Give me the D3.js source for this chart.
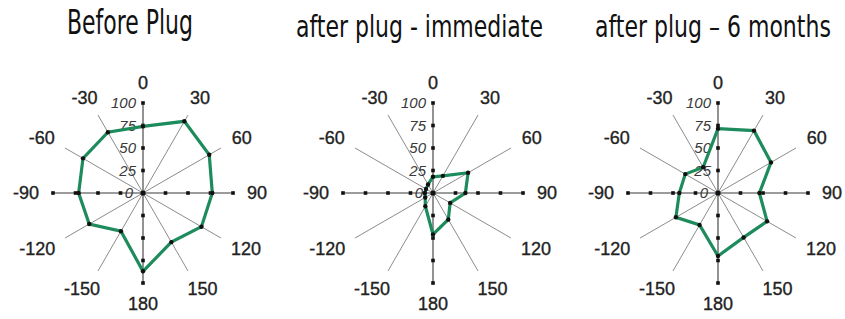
<!DOCTYPE html>
<html>
<head>
<meta charset="utf-8">
<script src="https://cdn.jsdelivr.net/npm/d3@7"></script>
<style>
  html, body { margin: 0; padding: 0; background: #fff; }
  svg { display: block; }
</style>
</head>
<body>
<svg id="chart" width="845" height="319"></svg>
<script>
// ---- data ----
const angles = [0, 30, 60, 90, 120, 150, 180, -150, -120, -90, -60, -30];
const angleLabels = ["0", "30", "60", "90", "120", "150", "180", "-150", "-120", "-90", "-60", "-30"];
const radialTicks = [0, 25, 50, 75, 100];
const radialTickLabels = ["0", "25", "50", "75", "100"];
const titles = ["Before Plug", "after plug - immediate", "after plug \u2013 6 months"];
const beforePlug = [74, 92, 85, 77, 75, 63, 87, 49, 69, 71.5, 77, 78];
const afterImmediate = [18, 22, 45, 36, 22, 34, 46, 17, 10, 9, 9, 11];
const afterSixMonths = [71.5, 80, 68, 46, 63, 57, 70, 41, 54, 43, 42, 33];

// ---- layout ----
const panels = [
  { cx: 143, cy: 193, values: beforePlug, title: titles[0], tx: 67, tw: 126, ty: 34, fs: 33 },
  { cx: 433, cy: 193, values: afterImmediate, title: titles[1], tx: 296, tw: 247, ty: 37, fs: 30 },
  { cx: 718, cy: 193, values: afterSixMonths, title: titles[2], tx: 595, tw: 236, ty: 37, fs: 30 }
];

const svg = d3.select("#chart");
const r = d3.scaleLinear().domain([0, 100]).range([0, 90]);
const rad = a => a * Math.PI / 180;
const green = "#1e8b5d";

panels.forEach(p => {
  // title (condensed by horizontal scaling to the reference width)
  const t = svg.append("text")
    .attr("x", 0).attr("y", 0)
    .style("font-family", "'DejaVu Sans Condensed', 'DejaVu Sans', sans-serif")
    .style("font-stretch", "condensed")
    .style("font-size", p.fs + "px")
    .style("fill", "#111")
    .text(p.title);
  const nat = t.node().getComputedTextLength();
  t.attr("transform", `translate(${p.tx},${p.ty}) scale(${p.tw / nat},1)`);

  const g = svg.append("g").attr("transform", `translate(${p.cx},${p.cy})`);

  // spokes (non-axis)
  g.selectAll("line.spoke")
    .data(angles.filter(a => a % 90 !== 0))
    .join("line")
    .attr("class", "spoke")
    .attr("x1", 0).attr("y1", 0)
    .attr("x2", a => Math.sin(rad(a)) * r(100))
    .attr("y2", a => -Math.cos(rad(a)) * r(100))
    .attr("stroke", "#8c8c8c").attr("stroke-width", 1);

  // main axes
  g.append("line").attr("x1", -r(100)).attr("x2", r(100)).attr("y1", 0).attr("y2", 0)
    .attr("stroke", "#3a3a3a").attr("stroke-width", 1.1);
  g.append("line").attr("y1", -r(100)).attr("y2", r(100)).attr("x1", 0).attr("x2", 0)
    .attr("stroke", "#3a3a3a").attr("stroke-width", 1.1);

  // axis tick dots
  const tickPts = [];
  radialTicks.filter(t => t > 0).forEach(t => {
    [0, 90, 180, -90].forEach(a => tickPts.push({ a, t }));
  });
  g.selectAll("rect.tick")
    .data(tickPts)
    .join("rect")
    .attr("class", "tick")
    .attr("x", d => Math.sin(rad(d.a)) * r(d.t) - 1.8)
    .attr("y", d => -Math.cos(rad(d.a)) * r(d.t) - 1.8)
    .attr("width", 3.6).attr("height", 3.6)
    .attr("fill", "#111");

  // radial tick labels
  g.selectAll("text.rt")
    .data(radialTicks)
    .join("text")
    .attr("class", "rt")
    .attr("x", (d, i) => i === 0 ? -10 : -7)
    .attr("y", d => -r(d))
    .attr("dy", "0.36em")
    .attr("text-anchor", "end")
    .style("font-family", "'Liberation Sans', Arial, sans-serif")
    .style("font-style", "italic")
    .style("font-size", "15px")
    .style("fill", "#3a3a3a")
    .text((d, i) => radialTickLabels[i]);

  // angle labels
  const labels = g.selectAll("text.al")
    .data(angles)
    .join("text")
    .attr("class", "al")
    .attr("text-anchor", "middle")
    .attr("dy", "0.36em")
    .style("font-family", "'Liberation Sans', Arial, sans-serif")
    .style("font-size", "18px")
    .style("fill", "#222")
    .style("stroke", "#222")
    .style("stroke-width", "0.35px")
    .text((d, i) => angleLabels[i]);
  labels.each(function (a) {
    const w = this.getComputedTextLength();
    const s = Math.sin(rad(a)), c = Math.cos(rad(a));
    const R0 = 104;
    d3.select(this)
      .attr("x", s * R0 + s * w / 2)
      .attr("y", -c * R0 - c * 6.5);
  });

  // data polygon
  const line = d3.lineRadial()
    .angle((d, i) => rad(angles[i]))
    .radius(d => r(d))
    .curve(d3.curveLinearClosed);
  g.append("path")
    .datum(p.values)
    .attr("d", line)
    .attr("fill", "none")
    .attr("stroke", green)
    .attr("stroke-width", 3.2)
    .attr("stroke-linejoin", "miter");

  // vertex dots
  g.selectAll("circle.pt")
    .data(p.values)
    .join("circle")
    .attr("class", "pt")
    .attr("cx", (d, i) => Math.sin(rad(angles[i])) * r(d))
    .attr("cy", (d, i) => -Math.cos(rad(angles[i])) * r(d))
    .attr("r", 2.2)
    .attr("fill", "#111");

  // center dot
  g.append("circle").attr("r", 2.6).attr("fill", "#111");
});
</script>
</body>
</html>
